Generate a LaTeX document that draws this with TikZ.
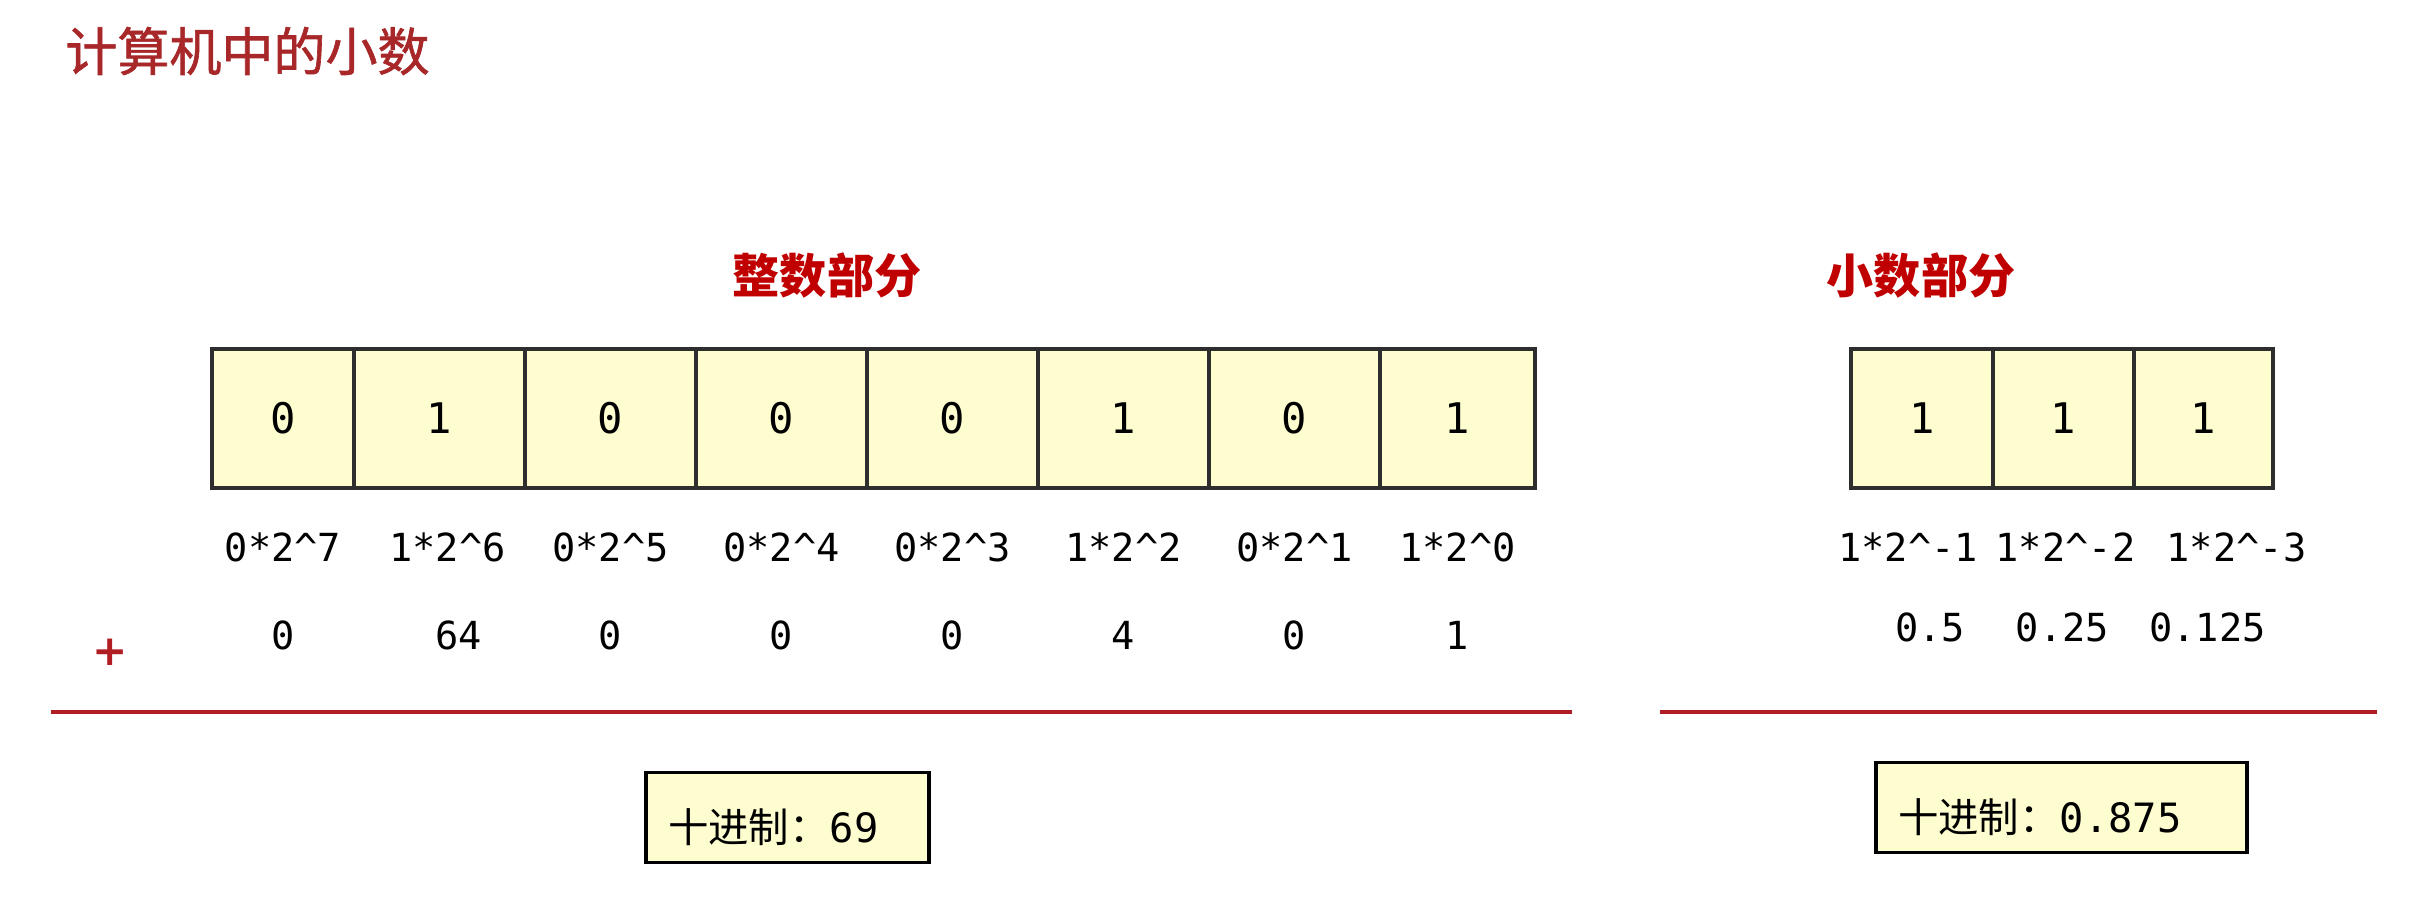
\documentclass[tikz,border=0pt]{standalone}
\usepackage{fontspec}
\setmainfont{DejaVu Sans}
\setmonofont{DejaVu Sans Mono}
\newfontfamily\cjk{Noto Sans CJK SC}
\newfontfamily\cjktitle[FakeBold=1.2]{Noto Sans CJK SC}
\usetikzlibrary{positioning}
\definecolor{titlered}{HTML}{A8282A}
\definecolor{headred}{HTML}{C00000}
\definecolor{linered}{HTML}{B01E23}
\definecolor{cellfill}{HTML}{FEFDD0}
\definecolor{celldraw}{HTML}{2E2E2E}

\begin{document}
\begin{tikzpicture}[
    cell/.style={rectangle, draw=celldraw, line width=1pt, fill=cellfill, minimum height=1.39cm, inner sep=0pt, outer sep=0pt, font=\fontsize{12}{14}\selectfont\ttfamily},
    term/.style={inner sep=0pt, text height=1.5ex, text depth=0.4ex, font=\fontsize{11}{13}\selectfont\ttfamily},
    heading/.style={font=\fontsize{13.4}{15}\selectfont\cjk\bfseries, text=headred},
    result/.style={rectangle, draw=black, line width=0.9pt, fill=cellfill, align=left, inner xsep=0.22cm, minimum height=0.9cm, text height=0.55cm, text depth=0.05cm, font=\fontsize{11.5}{13}\selectfont},
    sumline/.style={draw=linered, line width=1.2pt}
]
\useasboundingbox (0,0) rectangle (24.23,-9.11);

% Title
\node[anchor=west, font=\fontsize{14.8}{16}\selectfont\cjktitle, text=titlered] (title) at (0.53,-0.51) {计算机中的小数};

% Integer part
\node[heading] (int-title) at (8.27,-2.75) {整数部分};
\node[cell, minimum width=1.42cm] (i7) at (2.83,-4.185) {0};
\node[cell, minimum width=1.71cm, right=0pt of i7] (i6) {1};
\node[cell, minimum width=1.71cm, right=0pt of i6] (i5) {0};
\node[cell, minimum width=1.71cm, right=0pt of i5] (i4) {0};
\node[cell, minimum width=1.71cm, right=0pt of i4] (i3) {0};
\node[cell, minimum width=1.71cm, right=0pt of i3] (i2) {1};
\node[cell, minimum width=1.71cm, right=0pt of i2] (i1) {0};
\node[cell, minimum width=1.55cm, right=0pt of i1] (i0) {1};

\node[term, below=0.44cm of i7] (e7) {0*2\string^7};
\node[term, below=0.44cm of i6, xshift=0.08cm] (e6) {1*2\string^6};
\node[term, below=0.44cm of i5] (e5) {0*2\string^5};
\node[term, below=0.44cm of i4] (e4) {0*2\string^4};
\node[term, below=0.44cm of i3] (e3) {0*2\string^3};
\node[term, below=0.44cm of i2] (e2) {1*2\string^2};
\node[term, below=0.44cm of i1] (e1) {0*2\string^1};
\node[term, below=0.44cm of i0] (e0) {1*2\string^0};

\node[term, below=0.5cm of e7] (v7) {0};
\node[term, below=0.5cm of e6, xshift=0.11cm] (v6) {64};
\node[term, below=0.5cm of e5] (v5) {0};
\node[term, below=0.5cm of e4] (v4) {0};
\node[term, below=0.5cm of e3] (v3) {0};
\node[term, below=0.5cm of e2] (v2) {4};
\node[term, below=0.5cm of e1] (v1) {0};
\node[term, below=0.5cm of e0] (v0) {1};

\node[text=linered, font=\fontsize{12}{14}\selectfont\bfseries] (plus) at (1.1,-6.52) {+};

\coordinate (int-a) at (0.51,-7.12);
\coordinate (int-b) at (15.72,-7.12);
\draw[sumline] (int-a) -- (int-b);

\node[result, text width=2.39cm] (int-res) at (7.875,-8.175) {{\cjk 十进制：}{\ttfamily 69}};

% Fraction part
\node[heading] (frac-title) at (19.21,-2.75) {小数部分};
\node[cell, minimum width=1.42cm] (f1) at (19.22,-4.185) {1};
\node[cell, minimum width=1.41cm, right=0pt of f1] (f2) {1};
\node[cell, minimum width=1.39cm, right=0pt of f2] (f3) {1};

\node[term, below=0.44cm of f1, xshift=-0.14cm] (g1) {1*2\string^-1};
\node[term, below=0.44cm of f2, xshift=0.02cm] (g2) {1*2\string^-2};
\node[term, below=0.44cm of f3, xshift=0.33cm] (g3) {1*2\string^-3};

\node[term, below=0.42cm of g1, xshift=0.22cm] (w1) {0.5};
\node[term, below=0.42cm of g2, xshift=-0.03cm] (w2) {0.25};
\node[term, below=0.42cm of g3, xshift=-0.29cm] (w3) {0.125};

\coordinate (frac-a) at (16.60,-7.12);
\coordinate (frac-b) at (23.77,-7.12);
\draw[sumline] (frac-a) -- (frac-b);

\node[result, text width=3.27cm] (frac-res) at (20.615,-8.075) {{\cjk 十进制：}{\ttfamily 0.875}};

\end{tikzpicture}
\end{document}
